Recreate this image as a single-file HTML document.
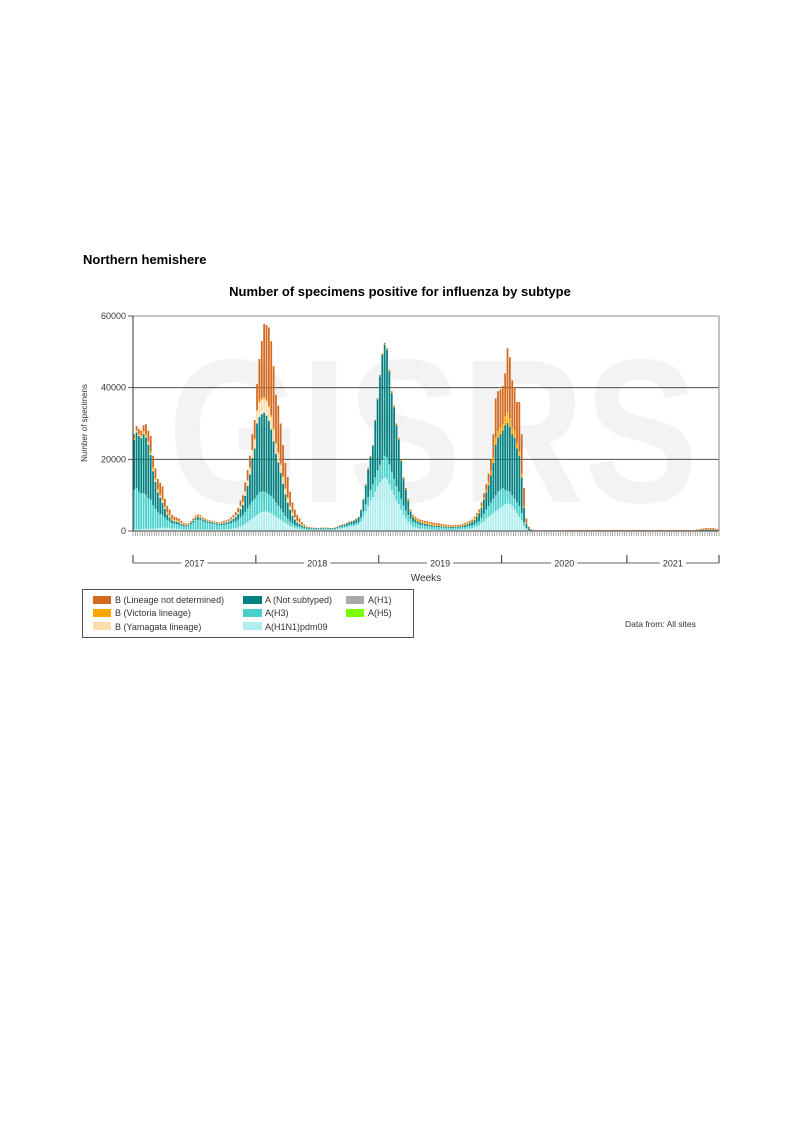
<!DOCTYPE html>
<html><head><meta charset="utf-8"><style>
html,body{margin:0;padding:0;background:#fff;}
body{width:793px;height:1122px;position:relative;overflow:hidden;font-family:"Liberation Sans",Arial,sans-serif;}
</style></head><body>
<svg id="chart" width="793" height="1122" viewBox="0 0 793 1122" xmlns="http://www.w3.org/2000/svg" font-family="Liberation Sans, Arial, sans-serif">
<text x="83" y="264" font-size="13" font-weight="bold" fill="#000">Northern hemishere</text>
<text x="400" y="296" font-size="13" font-weight="bold" text-anchor="middle" fill="#000">Number of specimens positive for influenza by subtype</text>
<text x="168" y="502" font-size="205" font-weight="bold" fill="#f3f3f3" textLength="530" lengthAdjust="spacingAndGlyphs">GISRS</text>
<g id="grid"></g>
<g id="bars"></g>
<g id="axes"></g>
<text transform="translate(87,423) rotate(-90)" font-size="8" text-anchor="middle" fill="#333">Number of specimens</text>
<text x="426" y="581" font-size="10" text-anchor="middle" fill="#333">Weeks</text>
<g>
<rect x="82.5" y="589.5" width="331" height="48" fill="#fff" stroke="#555" stroke-width="1"/>
<rect x="93" y="596" width="18" height="8" fill="#D2691E"/>
<text x="115" y="603" font-size="9" fill="#333">B (Lineage not determined)</text>
<rect x="93" y="609" width="18" height="8" fill="#FFA500"/>
<text x="115" y="616" font-size="9" fill="#333">B (Victoria lineage)</text>
<rect x="93" y="622" width="18" height="8" fill="#FCDDB0"/>
<text x="115" y="630" font-size="9" fill="#333">B (Yamagata lineage)</text>
<rect x="243" y="596" width="19" height="8" fill="#008080"/>
<text x="265" y="603" font-size="9" fill="#333">A (Not subtyped)</text>
<rect x="243" y="609" width="19" height="8" fill="#48D1CC"/>
<text x="265" y="616" font-size="9" fill="#333">A(H3)</text>
<rect x="243" y="622" width="19" height="8" fill="#AFEEEE"/>
<text x="265" y="630" font-size="9" fill="#333">A(H1N1)pdm09</text>
<rect x="346" y="596" width="18" height="8" fill="#A9A9A9"/>
<text x="368" y="603" font-size="9" fill="#333">A(H1)</text>
<rect x="346" y="609" width="18" height="8" fill="#7CFC00"/>
<text x="368" y="616" font-size="9" fill="#333">A(H5)</text>
</g>
<text x="625" y="627" font-size="8.5" fill="#333">Data from: All sites</text>
</svg>
<script>
// weekly values in thousands, 2017 w1 .. 2021 w39 (248 weeks)
const years = ["2017","2018","2019","2020","2021"];
const weeksPerYear = [52,52,52,53,39];
const yTicks = [0,20000,40000,60000];
const pdm09 = [
0.5,0.5,0.5,0.5,0.6,0.6,0.6,0.7,0.7,0.7,0.8,0.8,0.9,0.9,0.9,0.8,0.7,0.7,0.6,0.6,0.5,0.4,0.4,0.4,0.4,0.4,0.4,0.4,0.4,0.4,0.4,0.4,0.4,0.4,0.4,0.4,0.4,0.4,0.4,0.5,0.5,0.6,0.7,0.8,1.0,1.3,1.5,2.0,2.5,3.0,3.5,4.0,
4.5,5.0,5.3,5.5,5.4,5.2,5.0,4.5,4.0,3.6,3.2,2.7,2.2,1.8,1.4,1.1,0.9,0.7,0.6,0.5,0.4,0.3,0.3,0.3,0.3,0.3,0.3,0.3,0.3,0.3,0.3,0.3,0.3,0.4,0.5,0.7,0.8,0.9,1.0,1.2,1.3,1.4,1.6,1.8,2.7,4.0,5.5,7,8.5,9.5,11,12.5,
13.5,14.5,15,14.5,13,11.5,10,8.5,7.5,6,4.5,3.5,2.5,1.8,1.2,1.0,0.8,0.7,0.6,0.5,0.5,0.4,0.4,0.4,0.3,0.3,0.3,0.3,0.3,0.3,0.3,0.3,0.3,0.3,0.4,0.5,0.5,0.6,0.7,0.8,1.0,1.3,1.6,2.2,2.8,3.5,4.0,4.5,5,5.5,6,6.5,
7,7.5,7.7,7.5,7,6,5,4,3,1.5,0.5,0.2,0.1,0,0,0,0,0,0,0,0,0,0,0,0,0,0,0,0,0,0,0,0,0,0,0,0,0,0,0,0,0,0,0,0,0,0,0,0,0,0,0,0,
0,0,0,0,0,0,0,0,0,0,0,0,0,0,0,0,0,0,0,0,0,0,0,0,0,0,0,0,0,0,0,0,0,0,0,0,0,0,0];
const h3 = [
11,11.5,10.5,10,10,9.5,8.5,8,6.5,5.5,4.5,4,3.5,2.8,2.2,1.8,1.5,1.3,1.3,1.2,1.0,0.9,0.8,1.0,1.5,2.0,2.6,2.8,2.7,2.3,2.1,1.9,1.8,1.6,1.5,1.4,1.3,1.3,1.4,1.4,1.5,1.6,1.8,2.0,2.2,2.5,2.8,3.3,3.8,4.3,4.8,5.0,
5.5,5.8,5.8,5.5,5.3,5.0,4.8,4.5,4.0,3.5,3.0,2.5,2.0,1.6,1.3,1.0,0.8,0.7,0.6,0.5,0.4,0.4,0.3,0.3,0.3,0.3,0.2,0.3,0.3,0.3,0.3,0.2,0.2,0.3,0.3,0.4,0.4,0.4,0.5,0.5,0.5,0.5,0.6,0.7,1.0,1.5,2.0,2.5,3,3.5,4,4.5,
5,5.5,6,6,5.5,5,4.5,4,3.5,3,2.5,2.2,2.0,1.6,1.4,1.3,1.2,1.1,1.0,1.0,0.9,0.9,0.8,0.8,0.8,0.8,0.7,0.7,0.6,0.6,0.5,0.5,0.6,0.6,0.6,0.6,0.6,0.7,0.7,0.8,0.8,1.0,1.2,1.5,2.0,2.5,3.0,3.5,4,4.5,5,5,
5,4,3.5,3.5,3,3,3,3,2,1,0.3,0.1,0,0,0,0,0,0,0,0,0,0,0,0,0,0,0,0,0,0,0,0,0,0,0,0,0,0,0,0,0,0,0,0,0,0,0,0,0,0,0,0,0,
0,0,0,0,0,0,0,0,0,0,0,0,0,0,0,0,0,0,0,0,0,0,0,0,0,0,0,0,0,0,0,0,0,0,0,0,0,0,0];
const notSubtyped = [
14,15.5,15.5,15.5,16.5,16,15,12.5,9.5,7.5,5.5,4.5,3.5,2.5,1.5,1.2,0.8,0.7,0.7,0.6,0.5,0.4,0.3,0.3,0.4,0.5,0.6,0.7,0.6,0.5,0.5,0.4,0.4,0.4,0.4,0.3,0.3,0.4,0.4,0.5,0.6,0.7,0.9,1.1,1.5,2.3,3.0,4.5,6.3,8.5,12,14,
20,21,21.5,22,21.5,20.5,18.5,16,13.5,12,10,8,6,4.5,3.2,2.2,1.5,1.0,0.8,0.5,0.4,0.3,0.3,0.2,0.2,0.2,0.2,0.2,0.2,0.2,0.2,0.2,0.2,0.2,0.3,0.3,0.4,0.5,0.6,0.7,0.8,0.9,1.1,1.3,2.0,3.2,5.2,7.7,9.2,10.7,15.7,19.7,
24.6,29.1,31,30,26,22,20,17,14.5,10.5,7.5,5.8,3.9,2,1.2,0.9,0.7,0.6,0.6,0.5,0.5,0.4,0.4,0.3,0.3,0.3,0.3,0.3,0.3,0.3,0.3,0.3,0.3,0.3,0.3,0.4,0.5,0.6,0.7,0.9,1.3,1.7,2.1,2.8,3.9,4.7,5.8,7.5,10,14,15,15.5,
16,18,19,18,17,17,15,14,10,4,1.2,0.4,0.2,0.1,0.1,0.1,0.1,0.1,0.1,0.1,0.1,0.1,0.1,0.1,0.1,0.1,0.1,0.1,0.1,0.1,0.1,0.1,0.1,0.1,0.1,0.1,0.1,0.1,0.1,0.1,0.1,0.1,0.1,0.1,0.1,0.1,0.1,0.1,0.1,0.1,0.1,0.1,0.1,
0.1,0.1,0.1,0.1,0.1,0.1,0.1,0.1,0.1,0.1,0.1,0.1,0.1,0.1,0.1,0.1,0.1,0.1,0.1,0.1,0.1,0.1,0.1,0.1,0.1,0.1,0.1,0.1,0.1,0.2,0.2,0.3,0.3,0.3,0.3,0.3,0.3,0.3,0.2];
const bYamagata = [
0.2,0.3,0.3,0.3,0.3,0.4,0.4,0.4,0.4,0.4,0.4,0.4,0.4,0.3,0.3,0.3,0.2,0.2,0.2,0.2,0.1,0.1,0.1,0.1,0.1,0.1,0.1,0.1,0.1,0.1,0.1,0.1,0.1,0.1,0.1,0.1,0.1,0.1,0.2,0.2,0.2,0.3,0.3,0.4,0.5,0.7,0.8,1.1,1.4,1.7,2.2,2.5,
3.5,4.0,4.0,4.0,4.0,3.8,3.5,3.2,2.8,2.5,2.2,1.8,1.5,1.2,0.9,0.7,0.5,0.4,0.3,0.2,0.1,0.1,0,0,0,0,0,0,0,0,0,0,0,0,0,0,0,0,0,0,0,0,0,0,0,0,0,0,0,0,0,0,
0,0,0,0,0,0,0,0,0,0,0,0,0,0,0,0,0,0,0,0,0,0,0,0,0,0,0,0,0,0,0,0,0,0,0,0,0,0,0,0,0,0,0,0,0,0,0,0,0,0,0,0,
0,0,0,0,0,0,0,0,0,0,0,0,0,0,0,0,0,0,0,0,0,0,0,0,0,0,0,0,0,0,0,0,0,0,0,0,0,0,0,0,0,0,0,0,0,0,0,0,0,0,0,0,0,
0,0,0,0,0,0,0,0,0,0,0,0,0,0,0,0,0,0,0,0,0,0,0,0,0,0,0,0,0,0,0,0,0,0,0,0,0,0,0];
const bVictoria = [
0.3,0.3,0.4,0.4,0.5,0.6,0.6,0.7,0.7,0.6,0.6,0.6,0.5,0.4,0.3,0.3,0.2,0.2,0.2,0.2,0.2,0.1,0.1,0.1,0.1,0.1,0.2,0.2,0.2,0.2,0.1,0.1,0.1,0.1,0.1,0.1,0.1,0.1,0.1,0.1,0.1,0.1,0.1,0.1,0.1,0.2,0.2,0.2,0.2,0.3,0.3,0.3,
0.4,0.5,0.5,0.5,0.5,0.5,0.5,0.5,0.4,0.4,0.4,0.3,0.3,0.3,0.2,0.2,0.2,0.1,0.1,0.1,0.1,0,0,0,0,0,0,0,0.1,0.1,0,0,0,0,0,0.1,0.1,0.1,0.1,0.1,0.1,0.1,0.1,0.1,0.1,0.1,0.1,0.1,0.1,0.1,0.1,0.1,
0.1,0.1,0.2,0.2,0.2,0.2,0.2,0.2,0.2,0.2,0.2,0.2,0.3,0.3,0.3,0.4,0.4,0.4,0.4,0.4,0.4,0.4,0.4,0.4,0.4,0.3,0.3,0.3,0.3,0.2,0.2,0.2,0.2,0.2,0.2,0.2,0.3,0.3,0.3,0.3,0.4,0.5,0.5,0.6,0.7,0.8,1.0,1.2,1.5,2,2,2,
2,2.5,3,2.5,2,2,1.5,1.2,1,0.5,0.2,0.1,0,0,0,0,0,0,0,0,0,0,0,0,0,0,0,0,0,0,0,0,0,0,0,0,0,0,0,0,0,0,0,0,0,0,0,0,0,0,0,0,0,
0,0,0,0,0,0,0,0,0,0,0,0,0,0,0,0,0,0,0,0,0,0,0,0,0,0,0,0,0,0,0.05,0.05,0.1,0.1,0.1,0.1,0.1,0.1,0.1];
const bNotDetermined = [
1.0,1.2,1.3,1.3,1.6,2.7,2.9,4.2,3.2,2.8,2.7,3.2,3.7,2.1,1.8,1.6,1.1,0.9,0.8,0.7,0.5,0.4,0.3,0.3,0.3,0.4,0.4,0.4,0.4,0.3,0.3,0.3,0.2,0.2,0.2,0.2,0.2,0.3,0.3,0.3,0.4,0.5,0.7,0.9,1.2,1.5,1.7,2.4,2.8,3.2,4.2,5.2,
7.1,11.7,15.9,20.3,20.8,21.8,20.7,17.3,13.3,13,11.2,8.7,7,5.6,4,2.8,2.1,1.6,1.1,0.7,0.4,0.2,0.2,0.2,0.1,0.1,0.1,0.1,0.1,0.1,0.1,0.1,0.1,0.1,0.1,0.1,0.1,0.1,0.1,0.1,0.1,0.1,0.1,0.1,0.2,0.2,0.2,0.2,0.2,0.2,0.2,0.2,
0.3,0.3,0.3,0.3,0.3,0.3,0.3,0.3,0.3,0.3,0.3,0.3,0.3,0.3,0.4,0.4,0.4,0.4,0.4,0.4,0.4,0.4,0.4,0.4,0.4,0.4,0.4,0.3,0.3,0.3,0.3,0.3,0.3,0.3,0.3,0.3,0.3,0.3,0.4,0.4,0.5,0.5,0.6,0.9,1.1,1.5,2.2,3.3,6.5,11,11,10.5,
10.5,12,17.8,17,13,12,11.5,13.8,11,5,1.3,0.4,0.2,0.1,0.1,0.1,0.1,0.1,0.1,0.1,0.1,0.1,0.1,0.1,0.1,0.1,0.1,0.15,0.15,0.15,0.15,0.15,0.15,0.15,0.15,0.15,0.15,0.15,0.15,0.15,0.15,0.15,0.15,0.15,0.15,0.15,0.15,0.15,0.15,0.15,0.15,0.15,0.15,
0.15,0.15,0.15,0.15,0.15,0.15,0.15,0.15,0.15,0.15,0.15,0.15,0.15,0.15,0.15,0.15,0.15,0.15,0.15,0.15,0.15,0.15,0.15,0.15,0.15,0.15,0.15,0.15,0.15,0.2,0.2,0.3,0.3,0.4,0.4,0.4,0.4,0.3,0.2];

const NS = "http://www.w3.org/2000/svg";
const X0 = 133, X1 = 719, Y0 = 531, YTOP = 316, YMAX = 60000;
const nWeeks = weeksPerYear.reduce((a, b) => a + b, 0);
const step = (X1 - X0) / nWeeks;
function xScale(i) { return X0 + i * step; }
function yScale(v) { return Y0 - v / YMAX * (Y0 - YTOP); }
function mk(tag, attrs, parent) {
  const e = document.createElementNS(NS, tag);
  for (const k in attrs) e.setAttribute(k, attrs[k]);
  parent.appendChild(e);
  return e;
}
const grid = document.getElementById('grid');
const axes = document.getElementById('axes');
const barsG = document.getElementById('bars');

yTicks.forEach(t => {
  const y = yScale(t);
  if (t > 0 && t < YMAX) {
    const l = mk('line', {x1: X0, x2: X1, y1: y, y2: y, stroke: '#333', 'stroke-width': 0.8}, grid);
    
    
  }
  const tk = mk('line', {x1: X0 - 5, x2: X0, y1: y, y2: y, stroke: '#333', 'stroke-width': 0.8}, axes);
  
  
  const tx = mk('text', {x: X0 - 7, y: y + 3, 'font-size': 9, 'text-anchor': 'end', fill: '#333'}, axes);
  tx.textContent = String(t);
  
  
});

const series = [
  {vals: pdm09, color: '#AFEEEE', name: 'a-h1n1pdm09'},
  {vals: h3, color: '#48D1CC', name: 'a-h3'},
  {vals: notSubtyped, color: '#008080', name: 'a-not-subtyped'},
  {vals: bYamagata, color: '#FCDDB0', name: 'b-yamagata'},
  {vals: bVictoria, color: '#FFA500', name: 'b-victoria'},
  {vals: bNotDetermined, color: '#D2691E', name: 'b-lineage-not-determined'}
];
for (let i = 0; i < nWeeks; i++) {
  let cum = 0;
  series.forEach(s => {
    const v = (s.vals[i] || 0) * 1000;
    if (v <= 0) return;
    const yTop = yScale(cum + v), yBot = yScale(cum);
    const r = mk('rect', {x: xScale(i) + 0.3, y: yTop, width: Math.max(step - 0.6, 0.5), height: yBot - yTop, fill: s.color}, barsG);
    
    
    cum += v;
  });
}

const frame = mk('path', {d: `M${X0},${Y0} L${X0},${YTOP} L${X1},${YTOP} L${X1},${Y0}`, fill: 'none', stroke: '#888', 'stroke-width': 1}, axes);


const yAxis = mk('line', {x1: X0, x2: X0, y1: YTOP, y2: Y0, stroke: '#333', 'stroke-width': 1}, axes);


const xAxis = mk('line', {x1: X0, x2: X1, y1: Y0, y2: Y0, stroke: '#444', 'stroke-width': 1}, axes);


for (let i = 0; i <= nWeeks; i++) {
  const x = xScale(i);
  const wt = mk('line', {x1: x, x2: x, y1: Y0, y2: Y0 + 5, stroke: '#777', 'stroke-width': 0.6}, axes);
  
  
}
const YB = 563;
const yl = mk('line', {x1: X0, x2: X1, y1: YB, y2: YB, stroke: '#333', 'stroke-width': 0.8}, axes);


let start = 0;
years.forEach((yr, k) => {
  const xs = xScale(start), xe = xScale(start + weeksPerYear[k]);
  const t1 = mk('line', {x1: xs, x2: xs, y1: YB - 8, y2: YB, stroke: '#333', 'stroke-width': 1}, axes);
  
  
  const xm = (xs + xe) / 2;
  const bg = mk('rect', {x: xm - 13, y: YB - 5, width: 26, height: 10, fill: '#fff'}, axes);
  
  
  const lt = mk('text', {x: xm, y: YB + 3.5, 'font-size': 9, 'text-anchor': 'middle', fill: '#333'}, axes);
  lt.textContent = yr;
  
  
  start += weeksPerYear[k];
});
const te = mk('line', {x1: X1, x2: X1, y1: YB - 8, y2: YB, stroke: '#333', 'stroke-width': 1}, axes);


</script>
</body></html>
